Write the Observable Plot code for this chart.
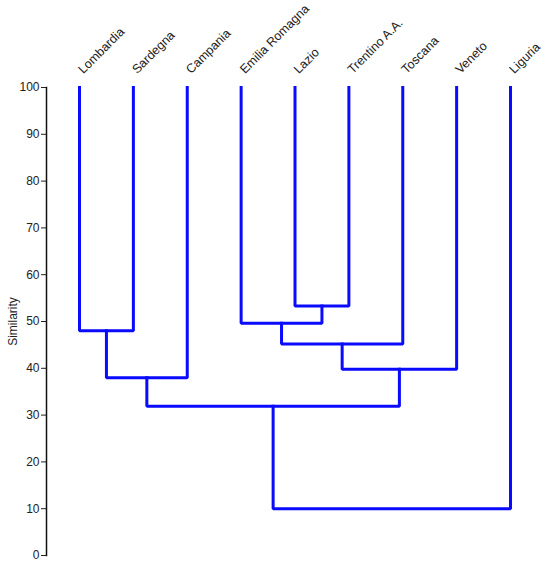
<!DOCTYPE html>
<html lang="en">
<head>
<meta charset="utf-8">
<title>Similarity dendrogram</title>
<script src="https://cdn.jsdelivr.net/npm/d3@7"></script>
<script src="https://cdn.jsdelivr.net/npm/@observablehq/plot@0.6"></script>
<style>
  body { margin: 0; background: #fff; }
  #graphic svg { display: block; }
</style>
</head>
<body>
<div id="graphic"></div>
<script>
  // leaves in dendrogram order
  const leaves = ["Lombardia", "Sardegna", "Campania", "Emilia Romagna", "Lazio",
    "Trentino A.A.", "Toscana", "Veneto", "Liguria"];

  // merges: [left, right, similarity]; "m#" refers to an earlier merge
  const merges = [
    ["Lombardia", "Sardegna", 48],
    ["Lazio", "Trentino A.A.", 53.3],
    ["Emilia Romagna", "m1", 49.6],
    ["m0", "Campania", 38],
    ["m2", "Toscana", 45.2],
    ["m4", "Veneto", 39.8],
    ["m3", "m5", 31.9],
    ["m6", "Liguria", 10]
  ];

  const yTicks = [0, 10, 20, 30, 40, 50, 60, 70, 80, 90, 100];

  // position of every node: leaves sit at similarity 100
  const nodes = new Map(leaves.map((d, i) => [d, {x: i, y: 100}]));
  const paths = [];
  merges.forEach(([a, b, h], i) => {
    const A = nodes.get(a), B = nodes.get(b);
    const id = "m" + i;
    paths.push({id, x: A.x, y: A.y}, {id, x: A.x, y: h}, {id, x: B.x, y: h}, {id, x: B.x, y: B.y});
    nodes.set(id, {x: (A.x + B.x) / 2, y: h});
  });

  const labels = leaves.map((d, i) => ({name: d, x: i, y: 100}));

  const chart = Plot.plot({
    width: 550,
    height: 568,
    marginTop: 87,
    marginBottom: 13,
    marginLeft: 46,
    marginRight: 20,
    style: {fontFamily: "'Liberation Sans', Arial, sans-serif", fontSize: "12px", color: "#222"},
    x: {domain: [-0.6125, 8.371], axis: null},
    y: {domain: [0, 100]},
    marks: [
      Plot.axisY({ticks: yTicks, tickSize: 5, tickPadding: 2, fontSize: 12,
        label: "Similarity", labelAnchor: "center", labelArrow: "none", labelOffset: 38}),
      Plot.frame({anchor: "left", stroke: "#111", strokeWidth: 1.5}),
      Plot.line(paths, {x: "x", y: "y", z: "id", stroke: "#0a0aff", strokeWidth: 3,
        strokeLinejoin: "miter", strokeLinecap: "square"}),
      Plot.text(labels, {x: "x", y: "y", text: "name", rotate: -45, textAnchor: "start",
        dx: 1, dy: -16, fontSize: 12.5, fill: "#222"})
    ]
  });
  document.getElementById("graphic").appendChild(chart);
</script>
</body>
</html>
